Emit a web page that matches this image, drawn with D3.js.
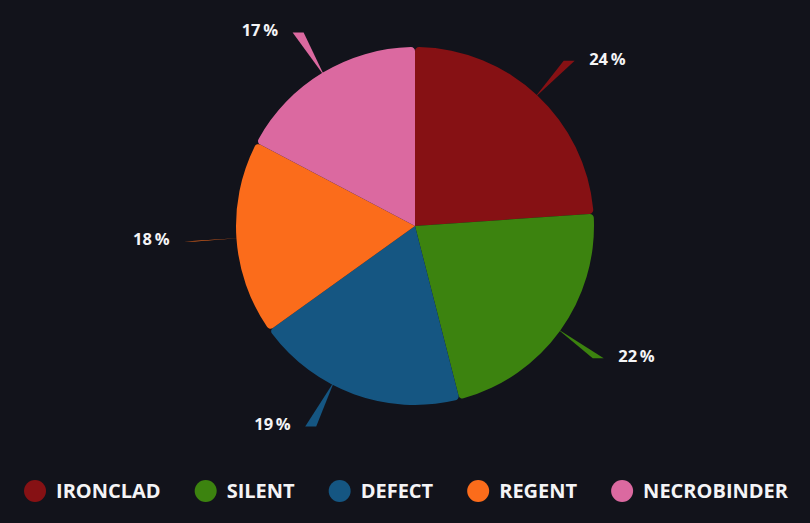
<!DOCTYPE html>
<html>
<head>
<meta charset="utf-8">
<script src="https://cdn.jsdelivr.net/npm/d3@7"></script>
<style>
  html, body { margin: 0; padding: 0; background: #12131b; }
  svg { display: block; }
  .pct { font-family: "Open Sans", sans-serif; font-weight: 700; font-size: 16.5px; fill: #f4f4f6; }
  .leg_txt { font-family: "Open Sans", sans-serif; font-weight: 700; font-size: 20px; fill: #f4f4f6; }
</style>
</head>
<body>
<div id="pieChart"></div>
<script>
// chart data (shares in percent, labels show them rounded)
const characters = ["IRONCLAD", "SILENT", "DEFECT", "REGENT", "NECROBINDER"];
const shares = [23.9, 22.1, 19.1, 17.6, 17.3];
const sliceColors = ["#861114", "#3c830f", "#155682", "#fb6c1b", "#db69a0"];

const W = 810, H = 523;

function draw_pie_chart() {
    var cx = 415, cy = 226;
    var radius = 179;
    var lineOuter = 226; // end of the leader wedge
    var baseHalf = 5.5;  // half width of the wedge end
    var labelGap = 20;

    // DEFECT label is pushed a little round so it clears the legend/other labels
    var labelShift = { DEFECT: 7.5 * Math.PI / 180 };

    var svgBase = d3.select("#pieChart").append("svg")
        .attr("width", W)
        .attr("height", H);

    var data = characters.map((c, i) => ({ name: c, value: shares[i], color: sliceColors[i] }));

    var pie = d3.pie()
        .sort(null)
        .value(d => d.value);

    var arc = d3.arc()
        .innerRadius(0)
        .outerRadius(radius)
        .cornerRadius(4);

    var arcs = pie(data);
    var total = d3.sum(shares);

    function labelAngle(d) {
        return (d.startAngle + d.endAngle) / 2 + (labelShift[d.data.name] || 0);
    }

    var g = svgBase.append("g")
        .attr("transform", "translate(" + cx + "," + cy + ")");

    // leader wedges (narrow at the pie, wide at the label end)
    g.selectAll(".leader")
        .data(arcs)
        .enter().append("path")
        .attr("class", "leader")
        .attr("fill", d => d.data.color)
        .attr("d", d => {
            var a = labelAngle(d);
            var x0 = Math.sin(a) * (radius - 4), y0 = -Math.cos(a) * (radius - 4);
            var x1 = Math.sin(a) * lineOuter, y1 = -Math.cos(a) * lineOuter;
            return "M" + x0 + "," + y0 + "L" + (x1 - baseHalf) + "," + y1 + "L" + (x1 + baseHalf) + "," + y1 + "Z";
        });

    g.selectAll(".slice")
        .data(arcs)
        .enter().append("path")
        .attr("class", "slice")
        .attr("fill", d => d.data.color)
        .attr("d", arc);

    // percentage labels
    g.selectAll(".pct")
        .data(arcs)
        .enter().append("text")
        .attr("class", "pct")
        .attr("x", d => {
            var a = labelAngle(d);
            return Math.sin(a) * lineOuter + (Math.sin(a) >= 0 ? labelGap : -labelGap);
        })
        .attr("y", d => -Math.cos(labelAngle(d)) * lineOuter - 2)
        .attr("dy", ".35em")
        .attr("text-anchor", d => Math.sin(labelAngle(d)) >= 0 ? "start" : "end")
        .text(d => Math.round(d.data.value / total * 100) + "\u2009%");

    // legend
    var legY = 491, dotR = 11, txtGap = 21, itemGap = 34;
    var leg = svgBase.append("g").attr("class", "legend");
    var items = leg.selectAll(".leg_item")
        .data(data)
        .enter().append("g")
        .attr("class", "leg_item");

    items.append("circle")
        .attr("r", dotR)
        .attr("cx", 0)
        .attr("cy", legY)
        .attr("fill", d => d.color);

    items.append("text")
        .attr("class", "leg_txt")
        .attr("x", txtGap)
        .attr("y", legY)
        .attr("dy", ".35em")
        .text(d => d.name);

    var offs = [], run = 0;
    items.each(function () {
        var tw = d3.select(this).select("text").node().getComputedTextLength();
        offs.push(run);
        run += dotR + txtGap + tw + itemGap;
    });
    run -= itemGap;
    var startX = 406 - run / 2 + dotR;
    items.attr("transform", (d, i) => "translate(" + (startX + offs[i]) + ",0)");
}

draw_pie_chart();
</script>
</body>
</html>
